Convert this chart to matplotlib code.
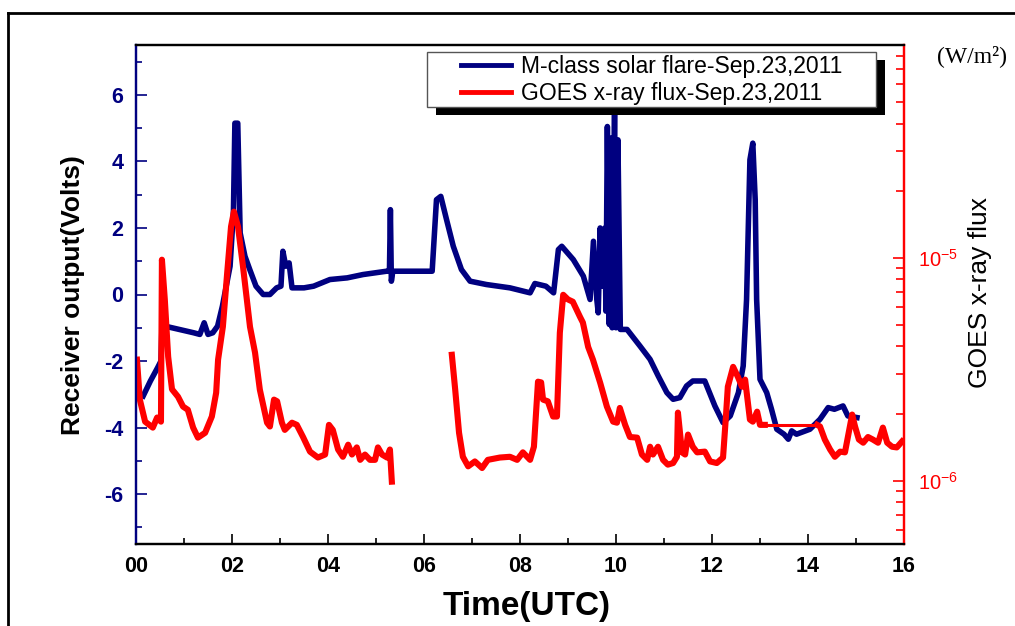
import numpy as np
import matplotlib
matplotlib.use("Agg")
import matplotlib.pyplot as plt
from matplotlib.patches import Rectangle
from matplotlib.lines import Line2D
from matplotlib.ticker import FixedLocator, LogLocator, NullFormatter

plt.rcParams['font.family'] = ['Liberation Sans', 'DejaVu Sans']
plt.rcParams['mathtext.fontset'] = 'custom'
plt.rcParams['mathtext.rm'] = 'Liberation Sans'
plt.rcParams['mathtext.it'] = 'Liberation Sans:italic'
plt.rcParams['mathtext.bf'] = 'Liberation Sans:bold'

# ---------------- data ----------------
receiver_hours = [0.15, 0.3, 0.45, 0.52, 0.54, 0.6, 0.75, 0.9, 1.05, 1.2, 1.33, 1.42, 1.5, 1.6,
                  1.7, 1.8, 1.96, 2.03, 2.06, 2.12, 2.17, 2.27, 2.37, 2.5, 2.65, 2.79, 2.93, 3.02,
                  3.06, 3.12, 3.19, 3.25, 3.5, 3.7, 4.04, 4.4, 4.73, 5.22, 5.28, 5.3, 5.32, 5.35,
                  5.6, 6.0, 6.17, 6.26, 6.35, 6.47, 6.61, 6.78, 6.96, 7.3, 7.79, 8.21, 8.31, 8.54,
                  8.7, 8.8, 8.87, 9.11, 9.32, 9.46, 9.53, 9.6, 9.63, 9.67, 9.72, 9.77, 9.79, 9.82,
                  9.86, 9.89, 9.92, 9.97, 10.0, 10.04, 10.09, 10.23, 10.5, 10.71, 10.88, 11.06,
                  11.19, 11.33, 11.47, 11.6, 11.85, 12.06, 12.23, 12.38, 12.55, 12.65, 12.72,
                  12.79, 12.85, 12.9, 12.93, 13.0, 13.14, 13.24, 13.35, 13.5, 13.59, 13.66, 13.76,
                  14.04, 14.25, 14.42, 14.55, 14.73, 14.83, 15.02]
receiver_volts = [-3.05, -2.6, -2.2, -2.0, -1.0, -0.95, -1.0, -1.05, -1.1, -1.15, -1.2, -0.85, -1.2,
                  -1.15, -0.95, -0.35, 0.85, 2.5, 5.15, 5.15, 1.85, 1.15, 0.75, 0.25, 0.0, 0.0, 0.2,
                  0.25, 1.3, 0.85, 0.95, 0.2, 0.2, 0.25, 0.45, 0.5, 0.6, 0.7, 0.7, 2.55, 0.4, 0.7,
                  0.7, 0.7, 0.7, 2.85, 2.95, 2.25, 1.45, 0.75, 0.4, 0.3, 0.2, 0.05, 0.33, 0.25,
                  0.05, 1.35, 1.45, 1.05, 0.55, -0.15, 1.6, -0.15, -0.55, 2.0, 0.25, 2.0, -0.5, 5.05,
                  -0.9, 4.7, -1.0, 5.6, -1.0, 4.65, -1.05, -1.05, -1.55, -1.95, -2.45, -2.95,
                  -3.15, -3.1, -2.75, -2.6, -2.6, -3.35, -3.85, -3.65, -2.95, -2.15, -0.15,
                  4.05, 4.55, 2.85, -0.15, -2.55, -2.95, -3.45, -4.05, -4.2, -4.35, -4.1, -4.2,
                  -4.05, -3.75, -3.4, -3.45, -3.35, -3.65, -3.7]

goes_hours = [0.02, 0.08, 0.19, 0.35, 0.44, 0.52, 0.54, 0.6, 0.67, 0.75, 0.875, 0.98, 1.08, 1.19,
              1.29, 1.44, 1.58, 1.67, 1.71, 1.81, 1.9, 1.98, 2.04, 2.125, 2.23, 2.375, 2.48, 2.58,
              2.73, 2.79, 2.875, 2.94, 3.04, 3.1, 3.25, 3.35, 3.48, 3.625, 3.79, 3.94, 4.02, 4.1,
              4.21, 4.31, 4.42, 4.5, 4.6, 4.67, 4.77, 4.875, 4.98, 5.04, 5.125, 5.23, 5.29, 5.33,
              np.nan,
              6.58, 6.65, 6.73, 6.81, 6.92, 7.06, 7.21, 7.33, 7.58, 7.79, 7.94, 8.06, 8.21, 8.29,
              8.375, 8.44, 8.48, 8.58, 8.69, 8.77, 8.83, 8.9, 9.0, 9.1, 9.25, 9.31, 9.42, 9.52,
              9.67, 9.81, 9.94, 10.02, 10.08, 10.19, 10.29, 10.44, 10.54, 10.65, 10.71, 10.77,
              10.875, 10.98, 11.08, 11.19, 11.27, 11.29, 11.375, 11.44, 11.5, 11.6, 11.69, 11.85,
              11.96, 12.1, 12.23, 12.29, 12.33, 12.44, 12.54, 12.625, 12.69, 12.79, 12.85, 12.94,
              13.0, 13.1,
              np.nan,
              14.19, 14.25, 14.35, 14.46, 14.56, 14.67, 14.77, 14.83, 14.92, 14.98, 15.06, 15.15,
              15.25, 15.35, 15.46, 15.56, 15.65, 15.75, 15.85, 15.96]
goes_flux = [3.49e-6, 2.31e-6, 1.84e-6, 1.73e-6, 1.92e-6, 1.84e-6, 9.8e-6, 6.5e-6, 3.6e-6, 2.57e-6,
             2.38e-6, 2.15e-6, 2.08e-6, 1.73e-6, 1.56e-6, 1.64e-6, 1.94e-6, 2.48e-6, 3.49e-6,
             4.91e-6, 8.57e-6, 1.38e-5, 1.61e-5, 1.38e-5, 9.1e-6, 4.9e-6, 3.75e-6, 2.56e-6,
             1.82e-6, 1.75e-6, 2.31e-6, 2.27e-6, 1.82e-6, 1.69e-6, 1.82e-6, 1.78e-6, 1.57e-6,
             1.35e-6, 1.27e-6, 1.31e-6, 1.78e-6, 1.69e-6, 1.38e-6, 1.28e-6, 1.45e-6, 1.31e-6,
             1.41e-6, 1.24e-6, 1.31e-6, 1.24e-6, 1.24e-6, 1.41e-6, 1.31e-6, 1.27e-6, 1.38e-6,
             9.9e-7,
             np.nan,
             3.67e-6, 2.56e-6, 1.64e-6, 1.28e-6, 1.16e-6, 1.22e-6, 1.14e-6, 1.24e-6, 1.27e-6,
             1.28e-6, 1.24e-6, 1.34e-6, 1.24e-6, 1.42e-6, 2.78e-6, 2.76e-6, 2.31e-6, 2.27e-6,
             1.94e-6, 1.94e-6, 4.61e-6, 6.82e-6, 6.5e-6, 6.35e-6, 5.43e-6, 5.12e-6, 3.98e-6,
             3.49e-6, 2.75e-6, 2.15e-6, 1.84e-6, 1.82e-6, 2.12e-6, 1.78e-6, 1.57e-6, 1.56e-6,
             1.31e-6, 1.24e-6, 1.42e-6, 1.31e-6, 1.42e-6, 1.24e-6, 1.18e-6, 1.2e-6, 1.28e-6,
             2.02e-6, 1.34e-6, 1.31e-6, 1.61e-6, 1.42e-6, 1.34e-6, 1.35e-6, 1.22e-6, 1.2e-6,
             1.27e-6, 1.94e-6, 2.64e-6, 3.24e-6, 2.92e-6, 2.64e-6, 2.84e-6, 1.88e-6, 1.84e-6,
             2.04e-6, 1.78e-6, 1.78e-6,
             np.nan,
             1.78e-6, 1.75e-6, 1.53e-6, 1.38e-6, 1.28e-6, 1.35e-6, 1.34e-6, 1.57e-6, 1.98e-6,
             1.75e-6, 1.53e-6, 1.48e-6, 1.57e-6, 1.53e-6, 1.48e-6, 1.73e-6, 1.48e-6, 1.42e-6,
             1.41e-6, 1.5e-6]

# thin flat segment bridging the data gap
goes_gap_hours = [13.1, 14.19]
goes_gap_flux = [1.78e-6, 1.78e-6]

x_ticks = [0, 2, 4, 6, 8, 10, 12, 14, 16]
x_tick_labels = ['00', '02', '04', '06', '08', '10', '12', '14', '16']
y_ticks = [-6, -4, -2, 0, 2, 4, 6]
y_tick_labels = ['-6', '-4', '-2', '0', '2', '4', '6']
flux_ticks = [1e-6, 1e-5]
flux_tick_labels = ['$10^{-6}$', '$10^{-5}$']

series_labels = ['M-class solar flare-Sep.23,2011', 'GOES x-ray flux-Sep.23,2011']

NAVY = '#000080'
RED = '#ff0000'

W, H = 1015, 626
fig = plt.figure(figsize=(W / 100, H / 100), dpi=100)
ax = fig.add_axes([136 / W, 1 - 544 / H, (904 - 136) / W, (544 - 45) / H])
ax2 = ax.twinx()

l1, = ax.plot(receiver_hours, receiver_volts, color=NAVY, lw=4.0, solid_joinstyle='round')
l2, = ax2.plot(goes_hours, goes_flux, color=RED, lw=4.4, solid_joinstyle='round')
ax2.plot(goes_gap_hours, goes_gap_flux, color=RED, lw=2.2)

ax.set_xlim(0, 16)
ax.set_ylim(-7.5, 7.5)
ax2.set_yscale('log')
ax2.set_ylim(5.2e-7, 9e-5)

ax.set_xticks(x_ticks)
ax.set_xticklabels(x_tick_labels, fontsize=15.5, fontweight='bold')
ax.xaxis.set_minor_locator(FixedLocator(np.arange(1, 16, 2)))
ax.set_yticks(y_ticks)
ax.set_yticklabels(y_tick_labels, fontsize=15.5, fontweight='bold', color=NAVY)
ax.yaxis.set_minor_locator(FixedLocator(np.arange(-7, 8, 2)))

ax2.set_yticks(flux_ticks)
ax2.set_yticklabels(flux_tick_labels, fontsize=14.5, color=RED)
ax2.yaxis.set_minor_locator(LogLocator(base=10, subs=np.arange(2, 10)))
ax2.yaxis.set_minor_formatter(NullFormatter())

ax.tick_params(axis='x', which='major', direction='in', length=7, width=1.2, color='black', pad=9)
ax.tick_params(axis='x', which='minor', direction='in', length=4, width=1.2, color='black')
ax.tick_params(axis='y', which='major', direction='in', length=8, width=1.2, color=NAVY, pad=9,
               right=False)
ax.tick_params(axis='y', which='minor', direction='in', length=4, width=1.2, color=NAVY, right=False)
ax2.tick_params(axis='y', which='major', direction='in', length=8, width=1.2, color=RED, pad=10)
ax2.tick_params(axis='y', which='minor', direction='in', length=6, width=1.2, color=RED)

for a in (ax, ax2):
    a.spines['left'].set_color(NAVY)
    a.spines['right'].set_color(RED)
    a.spines['top'].set_color('black')
    a.spines['bottom'].set_color('black')
    for s in a.spines.values():
        s.set_linewidth(1.6)

# axis titles
fig.text(73 / W, 1 - 295 / H, 'Receiver output(Volts)', rotation=90, ha='center', va='center',
         fontsize=19, fontweight='bold')
fig.text(980 / W, 1 - 292 / H, 'GOES x-ray flux', rotation=90, ha='center', va='center',
         fontsize=19)
fig.text(527 / W, 1 - 607 / H, 'Time(UTC)', ha='center', va='center', fontsize=24,
         fontweight='bold')
fig.text(937 / W, 1 - 56 / H, '(W/m²)', ha='left', va='center', fontsize=17,
         family=['Liberation Serif', 'DejaVu Serif'])

# legend with offset black shadow
shadow = Rectangle((436 / W, 1 - 115 / H), 449 / W, 55 / H, transform=fig.transFigure,
                   facecolor='black', edgecolor='none', zorder=3)
frame = Rectangle((427 / W, 1 - 107 / H), 449 / W, 55 / H, transform=fig.transFigure,
                  facecolor='white', edgecolor='#555555', lw=1.0, zorder=4)
fig.add_artist(shadow)
fig.add_artist(frame)
leg = fig.legend([l1, l2], series_labels, loc='center',
                 bbox_to_anchor=(651.5 / W, 1 - 80 / H), frameon=False, fontsize=16.5,
                 borderpad=0, handlelength=2.2, handletextpad=0.4, labelspacing=0.2)
leg.set_zorder(5)
for ln in leg.get_lines():
    ln.set_linewidth(3.5)

# outer border lines of the original figure
fig.add_artist(Line2D([8 / W, 1], [1 - 13 / H, 1 - 13 / H], transform=fig.transFigure,
                      color='black', lw=2))
fig.add_artist(Line2D([8 / W, 8 / W], [0, 1 - 13 / H], transform=fig.transFigure,
                      color='black', lw=2))

fig.savefig('out.png', dpi=100)
